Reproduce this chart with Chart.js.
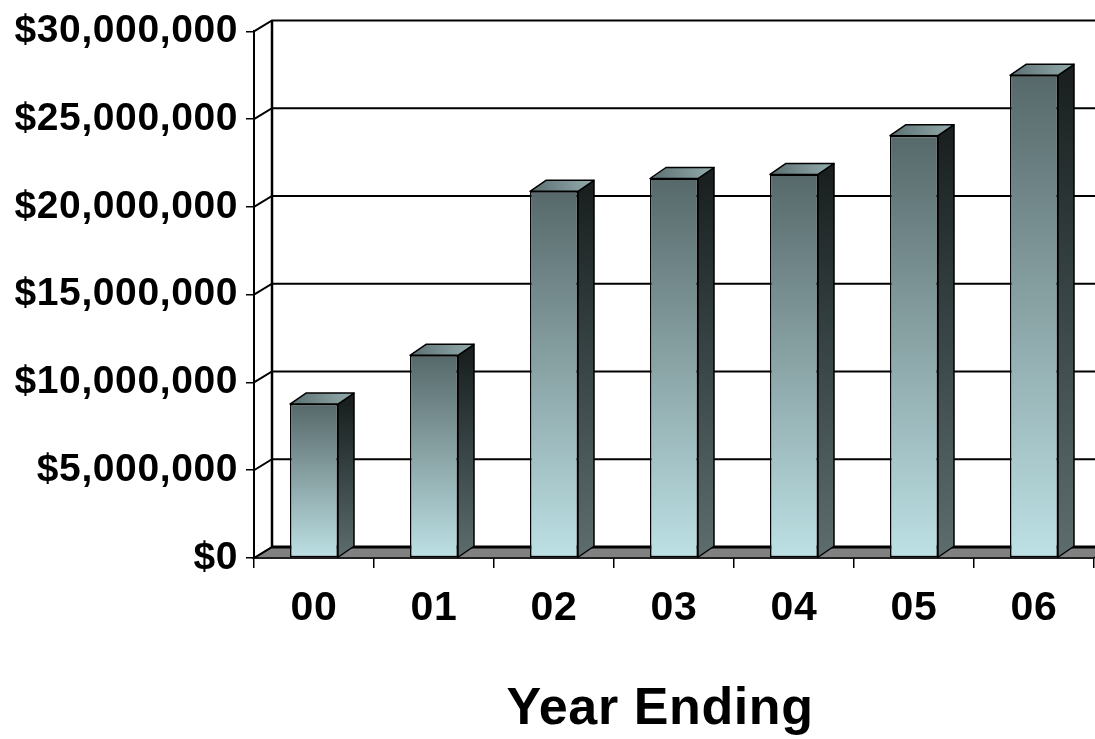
<!DOCTYPE html>
<html>
<head>
<meta charset="utf-8">
<title>Year Ending</title>
<script src="https://cdn.jsdelivr.net/npm/chart.js@4.4.1/dist/chart.umd.min.js"></script>
<style>
  html, body { margin: 0; padding: 0; background: #fff; }
  #chart { display: block; }
</style>
</head>
<body>
<canvas id="chart" width="1095" height="739"></canvas>
<script>
// ── Data ──────────────────────────────────
const years   = ["00", "01", "02", "03", "04", "05", "06"];
const revenue = [8770000, 11550000, 20890000, 21620000, 21850000, 24060000, 27500000];
const yMax    = 30000000;
const yStep   = 5000000;
const xTitle  = "Year Ending";

// depth of the fake 3D box
const WALL_DX = 18, WALL_DY = 11;
const BAR_DX  = 16, BAR_DY  = 11;

const FONT = "'Liberation Sans', Arial, sans-serif";
const SPACING = "0.6px";

function money(v) {
  return "$" + String(Math.round(v)).replace(/\B(?=(\d{3})+(?!\d))/g, ",");
}

// ── Letter spacing (old chart text is set loose) ──
const spacingPlugin = {
  id: "spacing",
  beforeUpdate(chart) { chart.ctx.letterSpacing = SPACING; },
  beforeDraw(chart)   { chart.ctx.letterSpacing = SPACING; },
};

// ── Back wall, floor, gridlines ───────────
const wallPlugin = {
  id: "wall",
  beforeDatasetsDraw(chart) {
    const { ctx, chartArea: a, scales: { y } } = chart;
    const bx = a.left + WALL_DX, bx2 = a.right + WALL_DX;
    ctx.save();

    // floor
    ctx.beginPath();
    ctx.moveTo(a.left, a.bottom);
    ctx.lineTo(a.right, a.bottom);
    ctx.lineTo(bx2, a.bottom - WALL_DY);
    ctx.lineTo(bx, a.bottom - WALL_DY);
    ctx.closePath();
    ctx.fillStyle = "#808080";
    ctx.fill();
    ctx.strokeStyle = "#000";
    ctx.lineWidth = 1.5;
    ctx.stroke();

    // gridlines on back wall + diagonals on side wall
    ctx.lineWidth = 2;
    y.ticks.forEach(t => {
      const py = y.getPixelForValue(t.value);
      ctx.beginPath();
      ctx.moveTo(a.left, py);
      ctx.lineTo(bx, py - WALL_DY);
      if (t.value !== 0) ctx.lineTo(bx2, py - WALL_DY);
      ctx.stroke();
    });

    // back wall bottom edge (thick)
    ctx.lineWidth = 3;
    ctx.beginPath();
    ctx.moveTo(bx, a.bottom - WALL_DY);
    ctx.lineTo(bx2, a.bottom - WALL_DY);
    ctx.stroke();

    // back wall left edge
    ctx.lineWidth = 2.5;
    ctx.beginPath();
    ctx.moveTo(bx, a.top - WALL_DY);
    ctx.lineTo(bx, a.bottom - WALL_DY);
    ctx.stroke();
    ctx.restore();
  },

  // side + top faces of each bar
  afterDatasetsDraw(chart) {
    const { ctx } = chart;
    const meta = chart.getDatasetMeta(0);
    ctx.save();
    ctx.strokeStyle = "#000";
    ctx.lineWidth = 1.5;
    ctx.lineJoin = "round";
    meta.data.forEach(bar => {
      const { x, y, base, width } = bar.getProps(["x", "y", "base", "width"], true);
      const l = x - width / 2, r = x + width / 2;

      // side
      const sg = ctx.createLinearGradient(0, y, 0, base);
      sg.addColorStop(0, "#1a2020");
      sg.addColorStop(0.5, "#3a4748");
      sg.addColorStop(1, "#5d6d6e");
      ctx.beginPath();
      ctx.moveTo(r, y);
      ctx.lineTo(r + BAR_DX, y - BAR_DY);
      ctx.lineTo(r + BAR_DX, base - BAR_DY);
      ctx.lineTo(r, base);
      ctx.closePath();
      ctx.fillStyle = sg;
      ctx.fill();
      ctx.stroke();

      // top
      const tg = ctx.createLinearGradient(l, y, r + BAR_DX, y - BAR_DY);
      tg.addColorStop(0, "#5a6e70");
      tg.addColorStop(1, "#95adae");
      ctx.beginPath();
      ctx.moveTo(l, y);
      ctx.lineTo(l + BAR_DX, y - BAR_DY);
      ctx.lineTo(r + BAR_DX, y - BAR_DY);
      ctx.lineTo(r, y);
      ctx.closePath();
      ctx.fillStyle = tg;
      ctx.fill();
      ctx.stroke();
    });
    ctx.restore();
  },

  // axis title sits a bit left of the plot centre in the original
  afterDraw(chart) {
    const { ctx } = chart;
    ctx.save();
    ctx.letterSpacing = SPACING;
    ctx.font = "bold 52px " + FONT;
    ctx.fillStyle = "#000";
    ctx.textAlign = "center";
    ctx.textBaseline = "middle";
    ctx.fillText(xTitle, 660, 710);
    ctx.restore();
  }
};

// ── Front face gradient ───────────────────
function frontFill(c) {
  const chart = c.chart;
  const y = chart.scales.y;
  if (!y || !chart.chartArea || c.dataIndex === undefined) return "#8aa3a5";
  const top = y.getPixelForValue(revenue[c.dataIndex]);
  const bot = y.getPixelForValue(0);
  const g = chart.ctx.createLinearGradient(0, top, 0, bot);
  g.addColorStop(0, "#56686a");
  g.addColorStop(0.5, "#8ba5a7");
  g.addColorStop(1, "#bde1e5");
  return g;
}

// ── Chart ─────────────────────────────────
new Chart(document.getElementById("chart"), {
  type: "bar",
  data: {
    labels: years,
    datasets: [{
      data: revenue,
      backgroundColor: frontFill,
      borderColor: "#000",
      borderWidth: 1.5,
      borderSkipped: false,
      barPercentage: 0.4,
      categoryPercentage: 1.0,
    }],
  },
  options: {
    responsive: false,
    animation: false,
    layout: { padding: { left: 0, top: 28, right: 1, bottom: 0 } },
    plugins: {
      legend:  { display: false },
      tooltip: { enabled: false },
    },
    scales: {
      x: {
        grid: {
          drawOnChartArea: false,
          drawTicks: true,
          tickLength: 10,
          color: "#000",
          lineWidth: 1.5,
        },
        border: { display: true, color: "#000", width: 1.5 },
        ticks: {
          color: "#000",
          padding: 16,
          font: { family: FONT, size: 41, weight: "bold" },
        },
        afterFit: s => { s.height = 181; },
      },
      y: {
        min: 0,
        max: yMax,
        grid: {
          drawOnChartArea: false,
          drawTicks: true,
          tickLength: 8,
          color: "#000",
          lineWidth: 1.5,
        },
        border: { display: true, color: "#000", width: 2 },
        ticks: {
          stepSize: yStep,
          color: "#000",
          padding: 8,
          font: { family: FONT, size: 39, weight: "bold" },
          callback: v => money(v),
        },
        afterFit: s => { s.width = 254; },
      },
    },
  },
  plugins: [spacingPlugin, wallPlugin],
});
</script>
</body>
</html>
